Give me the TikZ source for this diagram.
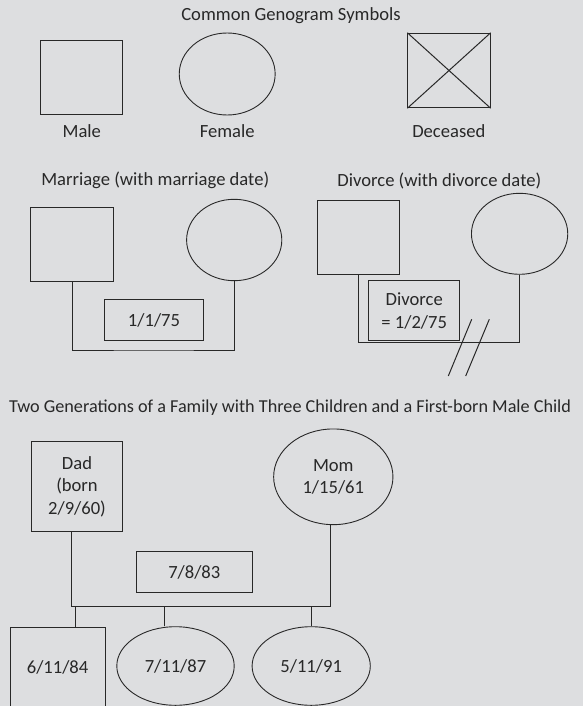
\documentclass[tikz,border=0pt]{standalone}
\usepackage{fontspec}
\setmainfont{Carlito}
\usetikzlibrary{shapes.geometric,positioning,calc}
\definecolor{panelgrey}{RGB}{221,222,224}
\definecolor{inkgrey}{RGB}{40,40,40}

\begin{document}
\begin{tikzpicture}[x=1pt, y=-1pt,
    every node/.style={font=\fontsize{18.6}{22.5}\selectfont, text=inkgrey},
    male/.style={draw=inkgrey, line width=1pt, rectangle, inner sep=0pt, minimum width=#1, minimum height=74},
    male/.default=82,
    female/.style={draw=inkgrey, line width=0.9pt, ellipse, inner sep=0pt},
    datebox/.style={draw=inkgrey, line width=1pt, rectangle, inner sep=0pt, align=center},
    tie/.style={draw=inkgrey, line width=1pt}]
  % Background panel
  \fill[panelgrey] (0,0) rectangle (583,706);
  \useasboundingbox (0,0) rectangle (583,706);

  % The three basic symbols
  \node (symtitle) at (291,16) {Common Genogram Symbols};
  \node[male=81.8] (male) at (81.8,78) {};
  \node[female, minimum width=95.9, minimum height=82] (female) at (227.2,74) {};
  \node[male=82.2, minimum height=74.4] (dead) at (449,70.5) {};
  \draw[tie] (dead.north west) -- (dead.south east);
  \draw[tie] (dead.north east) -- (dead.south west);
  \node (malelbl) at (81.8,130.7) {Male};
  \node (femalelbl) at (227.2,130.7) {Female};
  \node (deadlbl) at (448.8,130.7) {Deceased};

  % Marriage
  \node (martitle) at (155.2,180.7) {Marriage (with marriage date)};
  \node[male=82.5] (mhus) at (72.1,244.2) {};
  \node[female, minimum width=95.2, minimum height=81.4] (mwife) at (234.2,240) {};
  \node[datebox, minimum width=98.1, minimum height=40.7] (mdate) at (154,320.3) {1/1/75};
  \coordinate (mbar) at (154,350);
  \draw[tie] (mhus.south) |- (mbar) -| (mwife.south);

  % Divorce
  \node (divtitle) at (439.3,180.7) {Divorce (with divorce date)};
  \node[male=82.2] (dhus) at (358.6,237.3) {};
  \node[female, minimum width=96.3, minimum height=81] (dwife) at (519.6,233.8) {};
  \node[datebox, minimum width=91.4, minimum height=59.7] (ddate) at (414.2,310.8) {Divorce\\= 1/2/75};
  \coordinate (dbar) at (440,342.5);
  \draw[tie] (dhus.south) |- (dbar) -| (dwife.south);
  \draw[tie] (471.7,319.3) -- (448.3,376);
  \draw[tie] (489.3,319.3) -- (465.7,376);

  % Two generations
  \node[anchor=west, inner sep=0pt, font=\fontsize{18.2}{22.5}\selectfont] (famtitle) at (9,407.3) {Two Generations of a Family with Three Children and a First-born Male Child};
  \node[male=91.5, minimum height=89.6, align=center] (dad) at (77,486.5) {Dad\\(born\\2/9/60)};
  \node[female, minimum width=119.3, minimum height=95.7, align=center] (mom) at (333.3,476.8) {Mom\\1/15/61};
  \node[datebox, minimum width=116.4, minimum height=40.7] (fdate) at (194.3,572.3) {7/8/83};
  \coordinate (fbar) at (200,606.3);
  \draw[tie] ([xshift=-5.6pt]dad.south) |- (fbar) -| ([xshift=-3.1pt]mom.south);

  % Children
  \node[male=95.2, minimum height=100, anchor=north] (son) at (57.6,626.7) {};
  \node (sonlbl) at (57.6,667.3) {6/11/84};
  \node[female, minimum width=117.4, minimum height=78.6] (girl1) at (175.5,666) {7/11/87};
  \node[female, minimum width=118.2, minimum height=78.6] (girl2) at (311.2,666) {5/11/91};
  \draw[tie] ([xshift=17.5pt]son.north) -- ([xshift=17.5pt]son.north |- fbar);
  \draw[tie] ([xshift=-10.8pt]girl1.north) -- ([xshift=-10.8pt]girl1.north |- fbar);
  \draw[tie] (girl2.north) -- (girl2.north |- fbar);
\end{tikzpicture}
\end{document}
